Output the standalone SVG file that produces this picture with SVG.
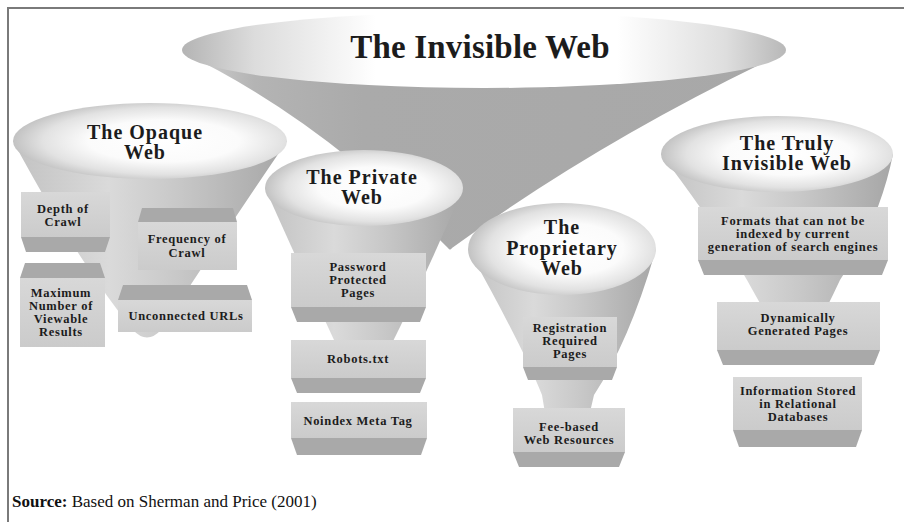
<svg xmlns="http://www.w3.org/2000/svg" width="904" height="522" viewBox="0 0 904 522">
<style>
.t{font-family:"Liberation Serif","Times New Roman",serif;font-weight:bold;fill:#1c1c1c;text-anchor:middle}
.h1{font-size:33px;letter-spacing:0.2px}
.h2{font-size:20px;letter-spacing:1px}
.bx{font-size:12.5px;letter-spacing:0.7px}
.front{fill:url(#gFront)}
.bevel{fill:#a9a9a9}
.face{fill:url(#gFace)}
.cone{fill:url(#gCone)}
.src{font-family:"Liberation Serif","Times New Roman",serif;font-size:17px;fill:#111}
</style>
<defs>
<linearGradient id="gBigFace" x1="0" y1="0" x2="1" y2="0">
<stop offset="0" stop-color="#b4b4b4"/><stop offset="0.12" stop-color="#dcdcdc"/><stop offset="0.32" stop-color="#ffffff"/><stop offset="0.72" stop-color="#ffffff"/><stop offset="0.9" stop-color="#dedede"/><stop offset="1" stop-color="#b8b8b8"/>
</linearGradient>
<linearGradient id="gBigCone" x1="0" y1="0" x2="1" y2="0">
<stop offset="0" stop-color="#d4d4d4"/><stop offset="0.12" stop-color="#b4b4b4"/><stop offset="0.3" stop-color="#aaaaaa"/><stop offset="1" stop-color="#a8a8a8"/>
</linearGradient>
<radialGradient id="gFace" cx="0.55" cy="0.5" r="0.55">
<stop offset="0" stop-color="#ffffff"/><stop offset="0.5" stop-color="#fbfbfb"/><stop offset="0.8" stop-color="#e2e2e2"/><stop offset="1" stop-color="#c2c2c2"/>
</radialGradient>
<linearGradient id="gCone" x1="0" y1="0" x2="1" y2="0">
<stop offset="0" stop-color="#c2c2c2"/><stop offset="0.35" stop-color="#dadada"/><stop offset="0.6" stop-color="#c8c8c8"/><stop offset="1" stop-color="#a6a6a6"/>
</linearGradient>
<linearGradient id="gFront" x1="0" y1="0" x2="0" y2="1">
<stop offset="0" stop-color="#d8d8d8"/><stop offset="1" stop-color="#cbcbcb"/>
</linearGradient>
</defs>
<rect width="904" height="522" fill="#ffffff"/>
<path d="M8,522 V8 H904" fill="none" stroke="#7a7a7a" stroke-width="2"/>

<g id="invisible-web">
<path d="M182,52 Q320,118 448,248 Q450,251 452,248 Q600,140 786,52 Z" fill="url(#gBigCone)"/>
<ellipse cx="484" cy="50" rx="302" ry="38" fill="url(#gBigFace)"/>
<text class="t h1" x="480" y="58">The Invisible Web</text>
</g>

<g id="opaque-web">
<path class="cone" d="M13,141 Q80,265 133,330 Q147,345 161,330 Q225,232 287,141 Z"/>
<ellipse class="face" cx="150" cy="141" rx="137" ry="38"/>
<text class="t h2" x="145" y="138.5">The Opaque</text>
<text class="t h2" x="145" y="158.5">Web</text>
</g>

<g id="depth-of-crawl">
<rect class="front" x="21" y="192" width="89" height="45"/>
<polygon class="bevel" points="21,237 110,237 105,252 26,252"/>
<text class="t bx" x="63" y="212.5">Depth of</text>
<text class="t bx" x="63" y="225.5">Crawl</text>
</g>

<g id="maximum-results">
<polygon class="bevel" points="25,263 100,263 105,278 20,278"/>
<rect class="front" x="20" y="278" width="85" height="69"/>
<text class="t bx" x="61" y="297">Maximum</text>
<text class="t bx" x="61" y="310">Number of</text>
<text class="t bx" x="61" y="323">Viewable</text>
<text class="t bx" x="61" y="336">Results</text>
</g>

<g id="frequency-of-crawl">
<polygon class="bevel" points="142,208 233,208 237,222 138,222"/>
<rect class="front" x="138" y="222" width="99" height="48"/>
<text class="t bx" x="187" y="243">Frequency of</text>
<text class="t bx" x="187" y="257">Crawl</text>
</g>

<g id="unconnected-urls">
<polygon class="bevel" points="123,285 247,285 252,300 118,300"/>
<rect class="front" x="118" y="300" width="134" height="32"/>
<text class="t bx" x="186" y="320">Unconnected URLs</text>
</g>

<g id="private-web">
<path class="cone" d="M265,188 Q315,300 355,385 Q363,395 371,385 Q420,290 463,188 Z"/>
<ellipse class="face" cx="364" cy="188" rx="99" ry="38"/>
<text class="t h2" x="362" y="183.5">The Private</text>
<text class="t h2" x="362" y="203.5">Web</text>
</g>

<g id="password-protected">
<rect class="front" x="291" y="253" width="135" height="54"/>
<polygon class="bevel" points="291,307 426,307 420,322 297,322"/>
<text class="t bx" x="358" y="271">Password</text>
<text class="t bx" x="358" y="284">Protected</text>
<text class="t bx" x="358" y="297">Pages</text>
</g>

<g id="robots-txt">
<rect class="front" x="291" y="340" width="135" height="38"/>
<polygon class="bevel" points="291,378 426,378 420,393 297,393"/>
<text class="t bx" x="358" y="363">Robots.txt</text>
</g>

<g id="noindex-meta-tag">
<rect class="front" x="291" y="402" width="136" height="36"/>
<polygon class="bevel" points="291,438 427,438 421,455 297,455"/>
<text class="t bx" x="358" y="425">Noindex Meta Tag</text>
</g>

<g id="proprietary-web">
<path class="cone" d="M468,249 Q522,345 542,395 L552,455 Q566,463 580,455 L594,395 Q630,340 656,249 Z"/>
<ellipse class="face" cx="562" cy="249" rx="94" ry="46"/>
<text class="t h2" x="562" y="233.5">The</text>
<text class="t h2" x="562" y="254.5">Proprietary</text>
<text class="t h2" x="562" y="274.5">Web</text>
</g>

<g id="registration-required">
<rect class="front" x="523" y="317" width="94" height="50"/>
<polygon class="bevel" points="523,367 617,367 612,380 528,380"/>
<text class="t bx" x="570" y="332">Registration</text>
<text class="t bx" x="570" y="345">Required</text>
<text class="t bx" x="570" y="358">Pages</text>
</g>

<g id="fee-based">
<rect class="front" x="513" y="408" width="112" height="44"/>
<polygon class="bevel" points="513,452 625,452 619,467 519,467"/>
<text class="t bx" x="569" y="431">Fee-based</text>
<text class="t bx" x="569" y="444">Web Resources</text>
</g>

<g id="truly-invisible-web">
<path class="cone" d="M661,154 Q715,225 747,280 Q780,340 792,352 L800,352 Q812,340 840,280 Q880,220 893,154 Z"/>
<ellipse class="face" cx="777" cy="154" rx="116" ry="38"/>
<text class="t h2" x="787" y="149.5">The Truly</text>
<text class="t h2" x="787" y="169.5">Invisible Web</text>
</g>

<g id="formats">
<rect class="front" x="698" y="207" width="190" height="53"/>
<polygon class="bevel" points="698,260 888,260 882,275 704,275"/>
<text class="t bx" x="793" y="225">Formats that can not be</text>
<text class="t bx" x="793" y="238">indexed by current</text>
<text class="t bx" x="793" y="251">generation of search engines</text>
</g>

<g id="dynamically-generated">
<rect class="front" x="717" y="302" width="163" height="48"/>
<polygon class="bevel" points="717,350 880,350 874,365 723,365"/>
<text class="t bx" x="798" y="322">Dynamically</text>
<text class="t bx" x="798" y="335">Generated Pages</text>
</g>

<g id="relational-databases">
<rect class="front" x="733" y="377" width="129" height="53"/>
<polygon class="bevel" points="733,430 862,430 856,447 739,447"/>
<text class="t bx" x="798" y="395">Information Stored</text>
<text class="t bx" x="798" y="408">in Relational</text>
<text class="t bx" x="798" y="421">Databases</text>
</g>

<g id="connectors"></g>

<text class="src" x="12" y="507"><tspan font-weight="bold">Source:</tspan> Based on Sherman and Price (2001)</text>
</svg>
